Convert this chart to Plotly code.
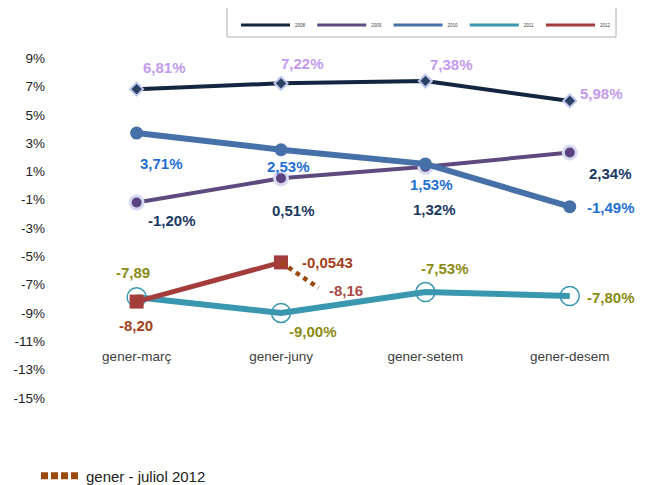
import plotly.graph_objects as go

# ---------------- data ----------------
categories = ["gener-març", "gener-juny", "gener-setem", "gener-desem"]
cat_pos = [0, 1, 2, 3]

series_names = ["2008", "2009", "2010", "2011", "2012"]
v2008 = [6.81, 7.22, 7.38, 5.98]
v2009 = [-1.20, 0.51, 1.32, 2.34]
v2010 = [3.71, 2.53, 1.53, -1.49]
v2011 = [-7.89, -9.00, -7.53, -7.80]
v2012 = [-8.20, -5.43]

# dotted "gener - juliol 2012" segment (juny -> juliol)
jul_name = "gener - juliol 2012"
jul_x = [1, 1.26]
jul_y = [-5.43, -7.23]

lab2008 = ["6,81%", "7,22%", "7,38%", "5,98%"]
lab2009 = ["-1,20%", "0,51%", "1,32%", "2,34%"]
lab2010 = ["3,71%", "2,53%", "1,53%", "-1,49%"]
lab2011 = ["-7,89", "-9,00%", "-7,53%", "-7,80%"]
lab2012 = ["-8,20", "-0,0543"]
lab_jul = ["-8,16"]

y_ticks = list(range(-15, 10, 2))
y_ticktext = [f"{v}%" for v in y_ticks]

# ---------------- styles ----------------
FONT = "Liberation Sans, Arial, sans-serif"
c08, c09, c10, c11, c12, cjul = "#13253f", "#5e4a7f", "#4670a8", "#3a97b0", "#a53c3c", "#9a4a0e"
W, H = 641, 477          # page adds an 8px body margin
OFF = 8                  # so figure pixel = reference pixel - 8

fig = go.Figure()

fig.add_trace(go.Scatter(x=cat_pos, y=v2008, mode="lines", line=dict(color=c08, width=4), showlegend=False))
fig.add_trace(go.Scatter(x=cat_pos, y=v2008, mode="markers", showlegend=False,
                         marker=dict(symbol="diamond", size=10, color="#2c4066", line=dict(color="#bcc6ea", width=2))))
fig.add_trace(go.Scatter(x=cat_pos, y=v2009, mode="lines", line=dict(color=c09, width=4), showlegend=False))
fig.add_trace(go.Scatter(x=cat_pos, y=v2009, mode="markers", showlegend=False,
                         marker=dict(symbol="circle", size=13, color="#5a4380", line=dict(color="#d6d9ef", width=3))))
fig.add_trace(go.Scatter(x=cat_pos, y=v2010, mode="lines+markers", line=dict(color=c10, width=6), showlegend=False,
                         marker=dict(symbol="circle", size=13, color=c10)))
fig.add_trace(go.Scatter(x=cat_pos, y=v2011, mode="lines", line=dict(color=c11, width=6), showlegend=False))
fig.add_trace(go.Scatter(x=cat_pos, y=v2011, mode="markers", showlegend=False,
                         marker=dict(symbol="circle-open", size=19, color=c11, line=dict(width=1.5))))
fig.add_trace(go.Scatter(x=cat_pos[:len(v2012)], y=v2012, mode="lines+markers", line=dict(color=c12, width=5),
                         showlegend=False, marker=dict(symbol="square", size=14, color=c12)))
fig.add_trace(go.Scatter(x=jul_x, y=jul_y, mode="lines", line=dict(color=cjul, width=4.5, dash="4.5px,4.5px"),
                         showlegend=False))
# legend entry for the dotted segment
fig.add_trace(go.Scatter(x=[None], y=[None], mode="lines", name=jul_name, legend="legend2",
                         line=dict(color=cjul, width=7, dash="7px,3px")))

# legend-only entries for the top legend
for nm, col in zip(series_names, [c08, c09, c10, c11, c12]):
    fig.add_trace(go.Scatter(x=[None], y=[None], mode="lines", name=nm, line=dict(color=col, width=3),
                             legend="legend", showlegend=True))


def add_labels(xs, ys, texts, color, shifts):
    for x, y, t, (dx, dy) in zip(xs, ys, texts, shifts):
        fig.add_annotation(x=x, y=y, text=f"<b>{t}</b>", showarrow=False, xshift=dx, yshift=dy,
                           font=dict(family=FONT, size=15, color=color))


add_labels(cat_pos, v2008, lab2008, "#c49bf0", [(28, 22), (21, 20), (26, 17), (32, 7)])
add_labels(cat_pos, v2010, lab2010, "#1f6fd1", [(25, -30), (7, -17), (6, -21), (41, -1)])
add_labels(cat_pos, v2009, lab2009, "#1b3a63", [(35, -18), (12, -32), (9, -43), (41, -21)])
add_labels(cat_pos, v2011, lab2011, "#8b8b12", [(-4, 25), (32, -19), (20, 24), (41, -2)])
add_labels(cat_pos, v2012, lab2012, "#a5401c", [(-1, -24), (46, 0)])
add_labels(jul_x[1:], jul_y[1:], lab_jul, "#a84a4a", [(27, -3)])

L, T, R, B = 50 - OFF, 44 - OFF, 5, H - (412 - OFF)
PW, PH = W - L - R, H - T - B

# legend frame
fig.add_shape(type="rect", xref="paper", yref="paper",
              x0=(227 - OFF - L) / PW, x1=(616 - OFF - L) / PW,
              y0=1 + (T - (37 - OFF)) / PH, y1=1 + (T - (7 - OFF)) / PH,
              line=dict(color="#b0b0b0", width=1), fillcolor="rgba(0,0,0,0)")

fig.update_layout(
    width=W, height=H,
    margin=dict(l=L, r=R, t=T, b=B),
    paper_bgcolor="white", plot_bgcolor="white",
    font=dict(family=FONT, size=13.5, color="#222222"),
    xaxis=dict(range=[-0.6, 3.514], tickvals=cat_pos, ticktext=categories, showgrid=False, zeroline=False,
               showline=False, ticks="", anchor="free", position=5 / 26, ticklabelstandoff=5,
               tickfont=dict(family=FONT, size=13.5, color="#404040")),
    yaxis=dict(range=[-16, 10], tickvals=y_ticks, ticktext=y_ticktext, showgrid=False, zeroline=False,
               showline=False, ticks="", ticklabelstandoff=4,
               tickfont=dict(family=FONT, size=13.5, color="#222222")),
    legend=dict(orientation="h", xref="container", yref="container", x=(236 - OFF) / W, y=1 - (25 - OFF) / H,
                xanchor="left", yanchor="middle",
                font=dict(family=FONT, size=4.5, color="#444444"), bgcolor="rgba(0,0,0,0)",
                entrywidth=12.25, itemwidth=49),
    legend2=dict(orientation="h", xref="container", yref="container", x=(36 - OFF) / W, y=1 - (476 - OFF) / H,
                 xanchor="left", yanchor="middle", itemwidth=40,
                 font=dict(family=FONT, size=15, color="#222222"), bgcolor="rgba(0,0,0,0)"),
)

fig.write_html("out.html")
